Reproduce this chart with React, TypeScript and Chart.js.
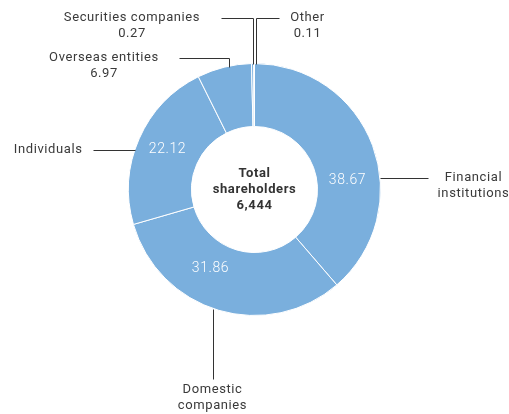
import React, { useEffect, useRef } from "react";
import { Chart, registerables } from "chart.js";

Chart.register(...registerables);

const categories = [
  "Financial institutions",
  "Domestic companies",
  "Individuals",
  "Overseas entities",
  "Securities companies",
  "Other",
];
const shares = [38.67, 31.86, 22.12, 6.97, 0.27, 0.11];
const centerLines = ["Total", "shareholders", "6,444"];

const FILL = "#7aafdd";
const TEXT = "#3a3a3a";
const FONT = "Roboto, 'DejaVu Sans', sans-serif";

// Layout in units of a reference radius of 126px (scaled by actual outer radius)
type Layout = {
  line: [number, number][];
  text: { lines: string[]; x: number; y: number; align: CanvasTextAlign };
  value?: [number, number];
};
const layouts: Layout[] = [
  { line: [[125, -12], [173, -12]], text: { lines: ["Financial", "institutions"], x: 219, y: -12, align: "center" }, value: [93, -9] },
  { line: [[-42, 119], [-42, 189]], text: { lines: ["Domestic", "companies"], x: -42, y: 200, align: "center" }, value: [-44, 79] },
  { line: [[-162, -40], [-120, -40]], text: { lines: ["Individuals"], x: -172, y: -40, align: "right" }, value: [-87, -40] },
  { line: [[-76, -132], [-26, -132], [-26, -123]], text: { lines: ["Overseas entities", "%v"], x: -150.5, y: -132, align: "center" } },
  { line: [[-34, -172], [-2, -172], [-2, -126]], text: { lines: ["Securities companies", "%v"], x: -122.5, y: -172, align: "center" } },
  { line: [[24, -172], [1, -172], [1, -126]], text: { lines: ["Other", "%v"], x: 53, y: -172, align: "center" } },
];

const labelPlugin = {
  id: "donutLabels",
  afterDraw(chart: any) {
    const ctx: CanvasRenderingContext2D = chart.ctx;
    const meta = chart.getDatasetMeta(0);
    const arc0 = meta.data[0];
    const { x: cx, y: cy, outerRadius } = arc0.getProps(["x", "y", "outerRadius"], true);
    const s = outerRadius / 126;
    ctx.save();
    (ctx as any).letterSpacing = "0.6px";
    layouts.forEach((l, i) => {
      ctx.strokeStyle = "#333";
      ctx.lineWidth = 1;
      ctx.beginPath();
      l.line.forEach(([dx, dy], k) => {
        const px = Math.round(cx + dx * s) + 0.5;
        const py = Math.round(cy + dy * s) + 0.5;
        if (k === 0) ctx.moveTo(px, py);
        else ctx.lineTo(px, py);
      });
      ctx.stroke();
      ctx.fillStyle = TEXT;
      ctx.font = `13px ${FONT}`;
      ctx.textAlign = l.text.align;
      ctx.textBaseline = "middle";
      l.text.lines.forEach((t, k) => {
        const txt = t === "%v" ? shares[i].toFixed(2) : t;
        ctx.fillText(txt, cx + l.text.x * s, cy + l.text.y * s + k * 16);
      });
      if (l.value) {
        ctx.fillStyle = "#ffffff";
        ctx.font = `300 14px ${FONT}`;
        ctx.textAlign = "center";
        ctx.fillText(shares[i].toFixed(2), cx + l.value[0] * s, cy + l.value[1] * s);
      }
    });
    ctx.fillStyle = "#333";
    ctx.font = `bold 13px ${FONT}`;
    ctx.textAlign = "center";
    ctx.textBaseline = "middle";
    centerLines.forEach((t, k) => {
      ctx.fillText(t, cx, cy - 16 + k * 16);
    });
    ctx.restore();
  },
};

export default function App() {
  const ref = useRef<HTMLCanvasElement | null>(null);
  useEffect(() => {
    document.body.style.margin = "0";
    const chart = new Chart(ref.current as HTMLCanvasElement, {
      type: "doughnut",
      data: {
        labels: categories,
        datasets: [
          {
            data: shares,
            backgroundColor: FILL,
            borderColor: "#ffffff",
            borderWidth: 1,
          },
        ],
      },
      options: {
        responsive: false,
        animation: false,
        cutout: "50%",
        layout: { padding: { top: 63, bottom: 98, left: 0, right: 0 } },
        plugins: { legend: { display: false }, tooltip: { enabled: false } },
      },
      plugins: [labelPlugin],
    });
    return () => chart.destroy();
  }, []);
  return (
    <div style={{ position: "absolute", left: 0, top: 0, width: 509, height: 414, background: "#fff" }}>
      <canvas ref={ref} width={509} height={414} />
    </div>
  );
}
